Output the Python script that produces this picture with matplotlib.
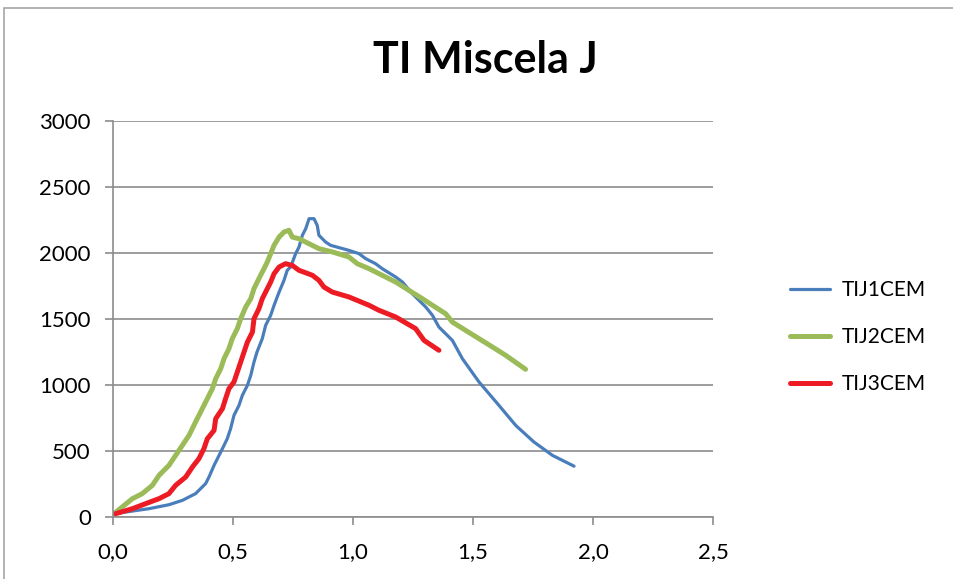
import matplotlib
matplotlib.use("Agg")
import matplotlib.pyplot as plt
from matplotlib.patches import Rectangle
from matplotlib.ticker import FixedLocator, FixedFormatter

plt.rcParams['font.family'] = ['Lato', 'DejaVu Sans']

title = "TI Miscela J"
series_names = ["TIJ1CEM", "TIJ2CEM", "TIJ3CEM"]
series_colors = ["#4A7EBB", "#9BBB59", "#ED1C24"]

x_ticks = [0.0, 0.5, 1.0, 1.5, 2.0, 2.5]
x_tick_labels = ["0,0", "0,5", "1,0", "1,5", "2,0", "2,5"]
y_ticks = [0, 500, 1000, 1500, 2000, 2500, 3000]
y_tick_labels = ["0", "500", "1000", "1500", "2000", "2500", "3000"]

tij1_x = [0.004, 0.15, 0.233, 0.289, 0.344, 0.386, 0.40, 0.421, 0.456, 0.476,
          0.49, 0.504, 0.525, 0.539, 0.56, 0.574, 0.5875, 0.60, 0.622, 0.636,
          0.657, 0.671, 0.692, 0.7125, 0.726, 0.74, 0.761, 0.775, 0.789, 0.803,
          0.817, 0.8375, 0.851, 0.858, 0.886, 0.907, 0.983, 1.025, 1.053, 1.094,
          1.122, 1.178, 1.206, 1.247, 1.303, 1.331, 1.358, 1.414, 1.456, 1.525,
          1.608, 1.678, 1.754, 1.831, 1.921]
tij1_y = [25, 63, 93, 126, 177, 253, 303, 391, 518, 593,
          669, 770, 846, 922, 997, 1073, 1174, 1250, 1351, 1452,
          1528, 1603, 1704, 1793, 1869, 1894, 1995, 2045, 2134, 2184,
          2260, 2260, 2209, 2134, 2083, 2058, 2020, 1995, 1957, 1919,
          1881, 1818, 1780, 1692, 1591, 1528, 1439, 1338, 1199, 1023,
          846, 694, 568, 467, 385]

tij2_x = [0.004, 0.081, 0.122, 0.164, 0.192, 0.233, 0.261, 0.289, 0.317, 0.344,
          0.365, 0.386, 0.414, 0.428, 0.449, 0.4625, 0.483, 0.497, 0.518, 0.532,
          0.553, 0.574, 0.5875, 0.608, 0.629, 0.643, 0.657, 0.671, 0.692, 0.7125,
          0.733, 0.747, 0.775, 0.817, 0.858, 0.914, 0.983, 1.018, 1.067, 1.122,
          1.178, 1.233, 1.289, 1.331, 1.386, 1.414, 1.469, 1.525, 1.581, 1.636,
          1.719]
tij2_y = [25, 139, 177, 240, 316, 391, 467, 543, 619, 720,
          795, 871, 972, 1048, 1124, 1199, 1275, 1351, 1427, 1502,
          1591, 1654, 1730, 1806, 1881, 1932, 1995, 2058, 2121, 2159,
          2172, 2121, 2108, 2070, 2033, 2008, 1970, 1919, 1881, 1831,
          1780, 1717, 1654, 1604, 1540, 1477, 1414, 1351, 1288, 1225,
          1119]

tij3_x = [0.011, 0.081, 0.136, 0.192, 0.233, 0.261, 0.303, 0.331, 0.358, 0.379,
          0.393, 0.421, 0.428, 0.456, 0.469, 0.483, 0.504, 0.518, 0.532, 0.546,
          0.56, 0.581, 0.5875, 0.608, 0.622, 0.643, 0.657, 0.671, 0.692, 0.719,
          0.747, 0.775, 0.831, 0.858, 0.879, 0.914, 0.983, 1.067, 1.108, 1.178,
          1.261, 1.296, 1.358]
tij3_y = [25, 63, 101, 139, 177, 240, 303, 379, 442, 518,
          593, 656, 745, 821, 896, 972, 1023, 1098, 1174, 1250,
          1325, 1401, 1502, 1578, 1654, 1730, 1780, 1843, 1894, 1919,
          1906, 1869, 1831, 1793, 1742, 1704, 1667, 1604, 1566, 1515,
          1427, 1338, 1263]

fig = plt.figure(figsize=(9.54, 5.79), dpi=100)
ax = fig.add_axes([113 / 954, 62 / 579, 600 / 954, 396 / 579])

grid_color = "#8C8C8C"
ax.plot(tij1_x, tij1_y, color=series_colors[0], lw=2.3, label=series_names[0],
        solid_joinstyle="round", solid_capstyle="round")
ax.plot(tij2_x, tij2_y, color=series_colors[1], lw=3.6, label=series_names[1],
        solid_joinstyle="round", solid_capstyle="round")
ax.plot(tij3_x, tij3_y, color=series_colors[2], lw=3.6, label=series_names[2],
        solid_joinstyle="round", solid_capstyle="round")

ax.set_xlim(0, 2.5)
ax.set_ylim(0, 3000)
ax.xaxis.set_major_locator(FixedLocator(x_ticks))
ax.xaxis.set_major_formatter(FixedFormatter(x_tick_labels))
ax.yaxis.set_major_locator(FixedLocator(y_ticks))
ax.yaxis.set_major_formatter(FixedFormatter(y_tick_labels))

ax.grid(axis="y", color=grid_color, lw=1.2)
ax.set_axisbelow(True)
for side in ("top", "right"):
    ax.spines[side].set_visible(False)
for side in ("left", "bottom"):
    ax.spines[side].set_color(grid_color)
    ax.spines[side].set_linewidth(1.2)
ax.tick_params(axis="x", direction="out", length=6, width=1.2, color=grid_color,
               pad=12, labelsize=16, labelcolor="black")
ax.tick_params(axis="y", direction="out", length=6, width=1.2, color=grid_color,
               pad=10, labelsize=16, labelcolor="black")

fig.text(485 / 954, 1 - 60 / 579, title, ha="center", va="center",
         fontsize=31, fontweight="bold")

ax.legend(loc="center left", bbox_to_anchor=(771 / 954, 1 - 337 / 579),
          bbox_transform=fig.transFigure, frameon=False, fontsize=15,
          handlelength=1.95, handletextpad=0.55, labelspacing=1.3)

fig.patches.append(Rectangle((4 / 954, -0.05), 1.2, 1 - 8 / 579 + 0.05,
                             transform=fig.transFigure, fill=False,
                             edgecolor="#A6A6A6", lw=1.2))

fig.savefig("out.png", dpi=100)
